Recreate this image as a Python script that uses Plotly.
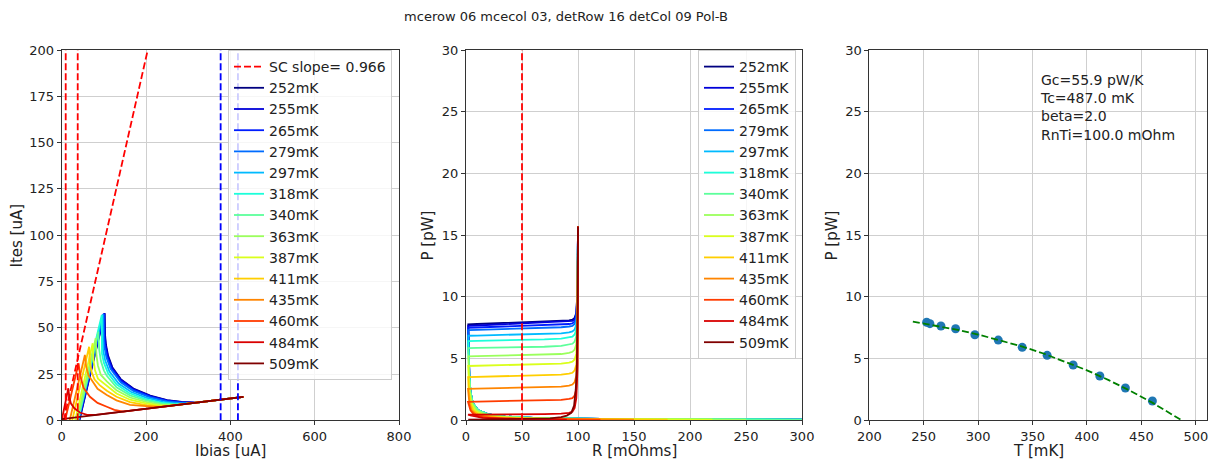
import plotly.graph_objects as go

# ---------------- data ----------------
temps_mK = [252, 255, 265, 279, 297, 318, 340, 363, 387, 411, 435, 460, 484, 509]
jet_colors = ["#000080", "#0000d9", "#001dff", "#006cff", "#00baff", "#1cffda", "#5cff9b",
              "#9bff5c", "#daff1c", "#ffce00", "#ff8500", "#ff3c00", "#d90000", "#800000"]

# Left panel: Ites vs Ibias (uA)
iv_ibias = [
    [42, 102, 103, 105, 110, 120, 140, 170, 210, 250, 285, 320, 431],
    [41.5, 101.5, 102.3, 104.5, 110, 120, 140, 170, 210, 250, 285, 318, 431],
    [40.5, 100.5, 101, 103, 108, 118, 140, 170, 210, 250, 285, 315, 431],
    [39.5, 99, 99.6, 101.5, 106, 116, 140, 170, 210, 250, 280, 310, 431],
    [38, 97, 98, 103, 113, 135, 165, 200, 240, 270, 300, 431],
    [36, 95, 95.5, 100, 110, 130, 160, 200, 235, 262, 290, 431],
    [39, 87, 89, 93, 100, 107, 130, 162, 200, 240, 280, 431],
    [36, 80.6, 82.5, 86, 93, 107, 130, 162, 200, 235, 265, 431],
    [32, 73.5, 75.5, 79, 86, 107, 130, 162, 200, 230, 255, 431],
    [25, 65, 67, 71, 78, 90, 107, 130, 162, 200, 225, 245, 431],
    [19, 55, 58, 64, 71, 85, 107, 130, 162, 200, 230, 431],
    [8, 40, 44, 52, 67, 85, 107, 125, 146, 431],
    [0, 15.7, 18, 22, 30, 43, 60, 80, 431],
    [0, 431],
]
iv_ites = [
    [0, 57.8, 45.8, 40.8, 34.9, 28.7, 22.25, 17.15, 13.3, 10.95, 9.95, 9.6, 12.7],
    [0, 57.8, 45.5, 40.2, 34.0, 28.1, 21.9, 16.9, 13.1, 10.8, 9.85, 9.55, 12.7],
    [0, 57.6, 45.1, 40.05, 34.1, 28.0, 21.2, 16.4, 12.8, 10.5, 9.7, 9.46, 12.7],
    [0, 57.4, 44.2, 39.5, 34.0, 27.75, 20.5, 15.9, 12.4, 10.2, 9.5, 9.32, 12.7],
    [0, 57.2, 38.3, 32.4, 26.4, 19.85, 15.25, 12.2, 9.95, 9.2, 9.04, 12.7],
    [0, 56.8, 36.0, 31.15, 25.35, 19.4, 14.75, 11.35, 9.6, 8.9, 8.76, 12.7],
    [0, 47.9, 38.0, 32.0, 27.0, 24.0, 17.8, 13.5, 10.7, 8.9, 8.48, 12.7],
    [0, 44.3, 35.0, 29.5, 24.5, 21.0, 16.2, 12.3, 9.9, 8.5, 8.06, 12.7],
    [0, 41.6, 32.5, 27.0, 22.5, 18.5, 14.5, 11.1, 9.1, 8.0, 7.78, 12.7],
    [0, 39.7, 31.0, 26.0, 22.0, 19.0, 16.0, 12.7, 9.8, 8.2, 7.65, 7.5, 12.7],
    [0, 35.3, 29.0, 24.0, 21.8, 17.0, 13.7, 10.8, 8.3, 7.4, 7.08, 12.7],
    [0, 30.8, 24.0, 17.5, 12.7, 9.4, 7.3, 5.6, 4.73, 12.7],
    [0, 17.3, 12.5, 9.0, 6.5, 4.2, 2.9, 2.88, 12.7],
    [0.64, 12.7],
]
sc_slope = 0.966
sc_line_ibias = [5, 215]
sc_line_ites = [0, 211]
sc_offsets_ibias = [9.5, 38]
normal_cuts_ibias = [377, 418]

# Middle panel: P (pW) vs R (mOhm)
cold_tail_r = [300, 200, 120, 60, 35, 20, 11, 6, 4, 3, 2.4]
cold_tail_p = [0.06, 0.08, 0.12, 0.2, 0.3, 0.48, 0.8, 1.4, 2.3, 3.6, 5.5]
plat_r = [10, 30, 50, 70, 85, 92, 95, 97, 98.5, 99.5, 100]
pr_r = [
    cold_tail_r + [2.0] + plat_r,
    cold_tail_r + [2.0] + plat_r,
    cold_tail_r + [2.0] + plat_r,
    cold_tail_r + [2.0] + plat_r,
    cold_tail_r + [2.0] + plat_r,
    cold_tail_r + [2.0] + plat_r,
    cold_tail_r + [2.0] + plat_r,
    [250, 160, 100, 50, 30, 17, 9.5, 5.2, 3.5, 2.6, 2.1] + plat_r,
    [220, 140, 85, 42, 25, 14, 8, 4.5, 3, 2.0] + plat_r,
    [180, 120, 70, 35, 20, 11.5, 6.5, 3.8, 2.5, 1.9] + plat_r,
    [150, 100, 60, 28, 16, 9, 5, 3, 1.8] + plat_r,
    [120, 80, 45, 22, 12, 7, 4, 1.8] + plat_r,
    [90, 60, 35, 15, 8, 4, 1.8] + plat_r,
    [2, 20, 40, 60, 75, 85, 90, 94, 96.5, 98, 99, 99.7, 100],
]
pr_p = [
    cold_tail_p + [7.78, 7.8, 7.86, 7.94, 8.0, 8.05, 8.1, 8.15, 8.3, 8.7, 10.5, 15.7],
    cold_tail_p + [7.66, 7.68, 7.76, 7.83, 7.9, 7.95, 8.0, 8.05, 8.2, 8.6, 10.4, 15.7],
    cold_tail_p + [7.5, 7.52, 7.58, 7.64, 7.7, 7.76, 7.8, 7.85, 8.0, 8.4, 10.2, 15.7],
    cold_tail_p + [7.3, 7.32, 7.37, 7.42, 7.48, 7.54, 7.6, 7.65, 7.8, 8.2, 10.0, 15.7],
    cold_tail_p + [6.85, 6.86, 6.9, 6.93, 6.98, 7.05, 7.12, 7.2, 7.35, 7.75, 9.6, 15.7],
    cold_tail_p + [6.42, 6.44, 6.47, 6.5, 6.55, 6.62, 6.7, 6.78, 6.95, 7.35, 9.2, 15.7],
    cold_tail_p + [5.85, 5.86, 5.88, 5.91, 5.96, 6.03, 6.12, 6.2, 6.38, 6.8, 8.7, 15.7],
    [0.06, 0.08, 0.12, 0.2, 0.3, 0.48, 0.8, 1.4, 2.3, 3.6, 5.18,
     5.2, 5.23, 5.26, 5.3, 5.37, 5.46, 5.55, 5.73, 6.15, 8.1, 15.7],
    [0.06, 0.08, 0.12, 0.2, 0.3, 0.48, 0.8, 1.4, 2.3, 4.4,
     4.42, 4.45, 4.48, 4.52, 4.59, 4.67, 4.75, 4.93, 5.4, 7.4, 15.7],
    [0.06, 0.08, 0.12, 0.2, 0.3, 0.48, 0.8, 1.4, 2.3, 3.5,
     3.52, 3.55, 3.59, 3.63, 3.7, 3.78, 3.85, 4.05, 4.5, 6.6, 15.7],
    [0.06, 0.08, 0.12, 0.2, 0.3, 0.48, 0.8, 1.4, 2.55,
     2.56, 2.59, 2.62, 2.66, 2.73, 2.81, 2.9, 3.1, 3.6, 5.7, 15.7],
    [0.06, 0.08, 0.12, 0.2, 0.3, 0.48, 0.8, 1.5,
     1.51, 1.53, 1.56, 1.6, 1.66, 1.73, 1.8, 2.0, 2.5, 4.6, 15.7],
    [0.06, 0.08, 0.12, 0.2, 0.3, 0.4, 0.45,
     0.45, 0.46, 0.48, 0.5, 0.54, 0.6, 0.7, 1.0, 1.8, 4.0, 15.7],
    [0.05, 0.06, 0.08, 0.1, 0.15, 0.25, 0.38, 0.6, 1.2, 2.5, 4.5, 9.5, 15.7],
]
r_cut_mohm = 50

# Right panel: P vs T
meas_T = [252.7, 255.7, 265.8, 279.3, 297.0, 318.5, 340.5, 363.4, 387.3, 411.8, 435.3, 460.1]
meas_P = [7.94, 7.83, 7.64, 7.42, 6.93, 6.50, 5.91, 5.26, 4.48, 3.59, 2.62, 1.56]
fit_T = [240, 260, 280, 300, 320, 340, 360, 380, 400, 420, 440, 460, 487]
fit_P = [7.99, 7.69, 7.35, 6.95, 6.50, 5.99, 5.41, 4.76, 4.05, 3.25, 2.38, 1.43, 0.0]
fit_text = ["Gc=55.9 pW/K", "Tc=487.0 mK", "beta=2.0", "RnTi=100.0 mOhm"]

title_text = "mcerow 06 mcecol 03, detRow 16 detCol 09 Pol-B"

# ---------------- figure ----------------
FONT = "DejaVu Sans"
LW = 1.8
PAGE_OFF = 8            # the html body margin
W, H = 1219 - PAGE_OFF, 466 - PAGE_OFF
fig = go.Figure()

# left panel
fig.add_trace(go.Scatter(x=sc_line_ibias, y=sc_line_ites, mode="lines",
                         line=dict(color="red", width=LW, dash="7px,3px"),
                         name=f"SC slope= {sc_slope}", xaxis="x", yaxis="y", legend="legend"))
for t, c, xs, ys in zip(temps_mK, jet_colors, iv_ibias, iv_ites):
    fig.add_trace(go.Scatter(x=xs, y=ys, mode="lines", line=dict(color=c, width=LW),
                             name=f"{t}mK", xaxis="x", yaxis="y", legend="legend"))
for v in sc_offsets_ibias:
    fig.add_trace(go.Scatter(x=[v, v], y=[0, 200], mode="lines",
                             line=dict(color="red", width=LW, dash="7px,3px"),
                             showlegend=False, xaxis="x", yaxis="y"))
for v in normal_cuts_ibias:
    fig.add_trace(go.Scatter(x=[v, v], y=[0, 200], mode="lines",
                             line=dict(color="blue", width=LW, dash="7px,3px"),
                             showlegend=False, xaxis="x", yaxis="y"))

# middle panel
for t, c, xs, ys in zip(temps_mK, jet_colors, pr_r, pr_p):
    fig.add_trace(go.Scatter(x=xs, y=ys, mode="lines", line=dict(color=c, width=LW),
                             name=f"{t}mK", xaxis="x2", yaxis="y2", legend="legend2"))
fig.add_trace(go.Scatter(x=[r_cut_mohm, r_cut_mohm], y=[0, 30], mode="lines",
                         line=dict(color="red", width=LW, dash="7px,3px"),
                         showlegend=False, xaxis="x2", yaxis="y2"))

# right panel
fig.add_trace(go.Scatter(x=meas_T, y=meas_P, mode="markers",
                         marker=dict(color="#1f77b4", size=9), showlegend=False,
                         xaxis="x3", yaxis="y3"))
fig.add_trace(go.Scatter(x=fit_T, y=fit_P, mode="lines",
                         line=dict(color="green", width=LW, dash="7px,3px"), showlegend=False,
                         xaxis="x3", yaxis="y3"))

def px_x(p):
    return (p - PAGE_OFF) / W

def px_y(p):
    return (466 - p) / H

ydom = [px_y(420.3), px_y(50)]
axis_common = dict(showline=True, mirror=True, linecolor="#333333", linewidth=1,
                   ticks="outside", ticklen=4, tickcolor="#333333", automargin=False,
                   showgrid=True, gridcolor="#cfcfcf", gridwidth=1, zeroline=False,
                   tickfont=dict(family=FONT, size=13, color="#222222"))

fig.update_layout(
    template="none",
    width=W, height=H,
    margin=dict(l=0, r=0, t=0, b=0, pad=0),
    paper_bgcolor="white", plot_bgcolor="white",
    font=dict(family=FONT, size=14, color="#222222"),
    title=dict(text=title_text, x=px_x(566), xanchor="center", y=px_y(16), yanchor="middle",
               font=dict(family=FONT, size=13, color="#222222")),
    xaxis=dict(domain=[px_x(61.7), px_x(399)], range=[0, 800], anchor="y",
               tickvals=[0, 200, 400, 600, 800], **axis_common),
    yaxis=dict(domain=ydom, range=[0, 200], anchor="x",
               tickvals=[0, 25, 50, 75, 100, 125, 150, 175, 200], **axis_common),
    xaxis2=dict(domain=[px_x(466), px_x(802)], range=[0, 300], anchor="y2",
                tickvals=[0, 50, 100, 150, 200, 250, 300], **axis_common),
    yaxis2=dict(domain=ydom, range=[0, 30], anchor="x2",
                tickvals=[0, 5, 10, 15, 20, 25, 30], **axis_common),
    xaxis3=dict(domain=[px_x(869.3), px_x(1206.7)], range=[200, 510], anchor="y3",
                tickvals=[200, 250, 300, 350, 400, 450, 500], **axis_common),
    yaxis3=dict(domain=ydom, range=[0, 30], anchor="x3",
                tickvals=[0, 5, 10, 15, 20, 25, 30], **axis_common),
    legend=dict(x=px_x(392), xanchor="right", y=px_y(50), yanchor="top",
                bgcolor="rgba(255,255,255,0.8)", bordercolor="#cccccc", borderwidth=1,
                font=dict(family=FONT, size=14, color="#222222"), itemwidth=30),
    legend2=dict(x=px_x(796), xanchor="right", y=px_y(50), yanchor="top",
                 bgcolor="rgba(255,255,255,0.8)", bordercolor="#cccccc", borderwidth=1,
                 font=dict(family=FONT, size=14, color="#222222"), itemwidth=30),
    showlegend=True,
)

ann_font = dict(family=FONT, size=15, color="#222222")
annotations = [
    dict(text="Ibias [uA]", x=px_x(230.4), y=px_y(451), xref="paper", yref="paper",
         showarrow=False, font=ann_font, xanchor="center", yanchor="middle"),
    dict(text="R [mOhms]", x=px_x(634), y=px_y(451), xref="paper", yref="paper",
         showarrow=False, font=ann_font, xanchor="center", yanchor="middle"),
    dict(text="T [mK]", x=px_x(1038), y=px_y(451), xref="paper", yref="paper",
         showarrow=False, font=ann_font, xanchor="center", yanchor="middle"),
    dict(text="Ites [uA]", x=px_x(17), y=px_y(235.5), xref="paper", yref="paper",
         showarrow=False, font=ann_font, textangle=-90, xanchor="center", yanchor="middle"),
    dict(text="P [pW]", x=px_x(428), y=px_y(235.5), xref="paper", yref="paper",
         showarrow=False, font=ann_font, textangle=-90, xanchor="center", yanchor="middle"),
    dict(text="P [pW]", x=px_x(832), y=px_y(235.5), xref="paper", yref="paper",
         showarrow=False, font=ann_font, textangle=-90, xanchor="center", yanchor="middle"),
    dict(text="<br>".join(fit_text), x=355, y=28.4, xref="x3", yref="y3",
         showarrow=False, align="left", xanchor="left", yanchor="top",
         font=dict(family=FONT, size=14, color="#222222")),
]
fig.update_layout(annotations=annotations)

fig.write_html("out.html")
